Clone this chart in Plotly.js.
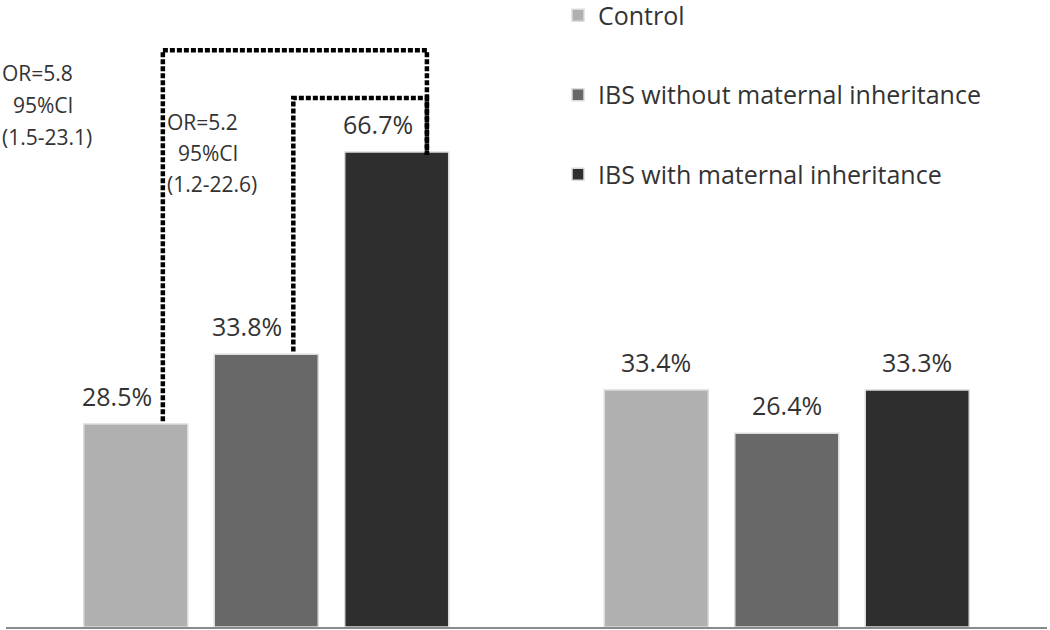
<!DOCTYPE html>
<html><head><meta charset="utf-8">
<script src="https://cdn.plot.ly/plotly-3.0.1.min.js"></script>
<style>html,body{margin:0;padding:0;background:#fff}#chart{width:1050px;height:630px}</style>
</head><body><div id="chart"></div>
<script>
// ---- data ----
const groups = [0, 1]; // two unlabeled groups
const seriesNames = ['Control', 'IBS without maternal inheritance', 'IBS with maternal inheritance'];
// bar heights as drawn in the picture (%)
const controlHeights = [28.5, 33.3];
const ibsWithoutHeights = [38.3, 27.2];
const ibsWithHeights = [66.7, 33.3];
// printed value labels
const controlLabels = ['28.5%', '33.4%'];
const ibsWithoutLabels = ['33.8%', '26.4%'];
const ibsWithLabels = ['66.7%', '33.3%'];
// odds-ratio annotation lines
const orOuterLines = ['OR=5.8', '\u00a0\u00a095%CI', '(1.5-23.1)'];
const orInnerLines = ['OR=5.2', '\u00a0\u00a095%CI', '(1.2-22.6)'];

// ---- style / layout ----
const colors = ['#b0b0b0', '#686868', '#2e2e2e'];
const heights = [controlHeights, ibsWithoutHeights, ibsWithHeights];
const labels = [controlLabels, ibsWithoutLabels, ibsWithLabels];
const FONT = '"Open Sans", "Noto Sans", sans-serif';
const TXT = '#333333';
const W = 1050, H = 630;
const M = {l: 6, r: 3, t: 0, b: 3};
const bargap = 0.248, bargroupgap = 0.203;
const slot = (1 - bargap) / 3;
const xPaper = px => (px - M.l) / (W - M.l - M.r);
const yPaper = py => (H - M.b - py) / (H - M.t - M.b);

const traces = [];
seriesNames.forEach((name, i) => {
  traces.push({
    type: 'bar', name: name, x: groups, y: heights[i],
    marker: {color: colors[i], line: {color: '#dcdcdc', width: 1.5}},
    legendgroup: 'g' + i, hoverinfo: 'skip'
  });
});

// bracket lines connecting bars (group 0)
const legOff = 0.052;
const barX = (g, s) => groups[g] + (s - 1) * slot;
function bracket(sLeft, sRight, top) {
  const xl = barX(0, sLeft) + legOff, xr = barX(0, sRight) + legOff + 0.006;
  return {
    type: 'scatter', mode: 'lines', showlegend: false, hoverinfo: 'skip',
    x: [xl, xl, xr, xr],
    y: [heights[sLeft][0] + 0.4, top, top, heights[sRight][0] - 0.4],
    line: {color: '#000', width: 4.5, dash: '5px,2px', shape: 'linear'}
  };
}
traces.push(bracket(0, 2, 81.0));
traces.push(bracket(1, 2, 74.3));

const annotations = [];
labels.forEach((arr, s) => {
  arr.forEach((t, g) => {
    annotations.push({
      x: barX(g, s), y: heights[s][g], xref: 'x', yref: 'y',
      text: t, showarrow: false, yanchor: 'bottom', xanchor: 'center',
      xshift: g === 0 ? -19 : 0, yshift: 9,
      font: {family: FONT, size: 25, color: TXT}
    });
  });
});
function orBlock(lines, leftPx, firstCenterPx, step) {
  lines.forEach((t, k) => {
    annotations.push({
      x: xPaper(leftPx), y: yPaper(firstCenterPx + k * step), xref: 'paper', yref: 'paper',
      text: t, showarrow: false, xanchor: 'left', yanchor: 'middle',
      font: {family: FONT, size: 21, color: TXT}
    });
  });
}
orBlock(orOuterLines, 0, 73, 32);
orBlock(orInnerLines, 165, 122, 31);

const layout = {
  width: W, height: H,
  margin: {l: M.l, r: M.r, t: M.t, b: M.b, pad: 0, autoexpand: false},
  paper_bgcolor: '#fff', plot_bgcolor: '#fff',
  barmode: 'group', bargap: bargap, bargroupgap: bargroupgap,
  font: {family: FONT, color: TXT},
  xaxis: {range: [-0.5, 1.5], showgrid: false, zeroline: false, showticklabels: false,
          ticks: '', showline: true, linecolor: '#8a8a8a', linewidth: 2, fixedrange: true},
  yaxis: {range: [0, 88.06], showgrid: false, zeroline: false, showticklabels: false,
          ticks: '', showline: false, fixedrange: true},
  showlegend: true,
  legend: {x: xPaper(558), xanchor: 'left', y: 1.012, yanchor: 'top',
           font: {family: FONT, size: 25, color: TXT}, bgcolor: 'rgba(0,0,0,0)',
           traceorder: 'grouped', tracegroupgap: 44, itemwidth: 30},
  annotations: annotations
};
Plotly.newPlot('chart', traces, layout, {displayModeBar: false, staticPlot: true});
</script>
</body></html>
